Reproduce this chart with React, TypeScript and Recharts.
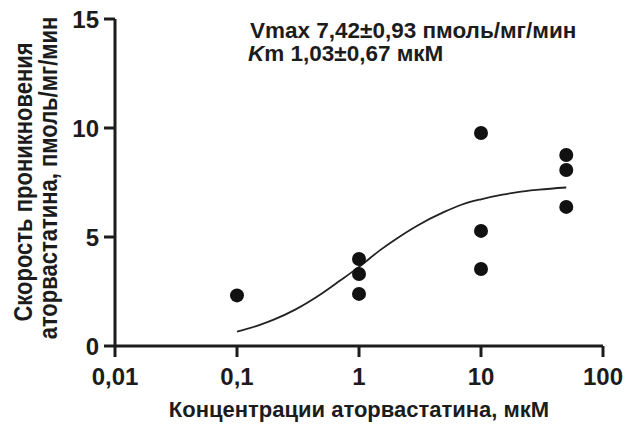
import React from "react";
import {
  ComposedChart,
  XAxis,
  YAxis,
  Scatter,
  Line,
  Customized,
} from "recharts";

// Measured data points (concentration µM, rate pmol/mg/min)
const pointX = [0.1, 1, 1, 1, 10, 10, 10, 50, 50, 50];
const pointY = [2.32, 3.99, 3.3, 2.39, 9.77, 5.28, 3.53, 8.76, 8.07, 6.38];

// Fitted curve
const curveX = [0.1, 0.15, 0.2, 0.3, 0.5, 0.7, 1, 1.5, 2, 3, 5, 7, 10, 15, 20, 30, 50];
const curveY = [0.66, 0.95, 1.21, 1.67, 2.42, 3.0, 3.63, 4.41, 4.9, 5.52, 6.15, 6.49, 6.73, 6.94, 7.06, 7.17, 7.27];

const xTicks = [0.01, 0.1, 1, 10, 100];
const yTicks = [0, 5, 10, 15];

const points = pointX.map((x, i) => ({ x, y: pointY[i] }));
const curve = curveX.map((x, i) => ({ x, y: curveY[i] }));

const FONT = "'Liberation Sans', Arial, sans-serif";
const INK = "#1c1c1c";

const Texts = () => (
  <g fontFamily={FONT} fontWeight="bold" fill={INK}>
    <text x={250} y={38} fontSize={22.5}>
      Vmax 7,42±0,93 пмоль/мг/мин
    </text>
    <text x={248} y={61} fontSize={22.5}>
      <tspan fontStyle="italic">K</tspan>m 1,03±0,67 мкМ
    </text>
    <text x={359} y={417} fontSize={22} textAnchor="middle">
      Концентрации аторвастатина, мкМ
    </text>
    <text
      x={0}
      y={0}
      fontSize={22}
      textAnchor="middle"
      transform="translate(32,182) scale(1.13,1) rotate(-90)"
    >
      Скорость проникновения
    </text>
    <text
      x={0}
      y={0}
      fontSize={22}
      textAnchor="middle"
      transform="translate(57,178) scale(1.13,1) rotate(-90)"
    >
      аторвастатина, пмоль/мг/мин
    </text>
  </g>
);

const fmt = (v: number) => String(v).replace(".", ",");

export default function App() {
  return (
    <div style={{ position: "absolute", left: 0, top: 0, background: "#fff" }}>
      <ComposedChart
        width={625}
        height={426}
        margin={{ top: 19, right: 22, bottom: 0, left: 0 }}
        data={curve}
      >
        <XAxis
          dataKey="x"
          type="number"
          scale="log"
          domain={[0.01, 100]}
          ticks={xTicks}
          allowDataOverflow
          tickFormatter={fmt}
          height={80}
          tickSize={11}
          tickMargin={11}
          axisLine={{ stroke: INK, strokeWidth: 3 }}
          tickLine={{ stroke: INK, strokeWidth: 3 }}
          tick={{ fill: INK, fontSize: 24, fontWeight: "bold", fontFamily: FONT }}
          interval={0}
        />
        <YAxis
          type="number"
          domain={[0, 15]}
          ticks={yTicks}
          width={115}
          tickSize={11}
          tickMargin={5}
          axisLine={{ stroke: INK, strokeWidth: 3 }}
          tickLine={{ stroke: INK, strokeWidth: 3 }}
          tick={{ fill: INK, fontSize: 24, fontWeight: "bold", fontFamily: FONT }}
          interval={0}
        />
        <Line
          dataKey="y"
          type="monotone"
          stroke="#222"
          strokeWidth={1.8}
          dot={false}
          activeDot={false}
          isAnimationActive={false}
        />
        <Scatter
          data={points}
          dataKey="y"
          fill="#111"
          shape={(p: any) => <circle cx={p.cx} cy={p.cy} r={7} fill="#111" />}
          isAnimationActive={false}
        />
        <Customized component={Texts} />
      </ComposedChart>
    </div>
  );
}
